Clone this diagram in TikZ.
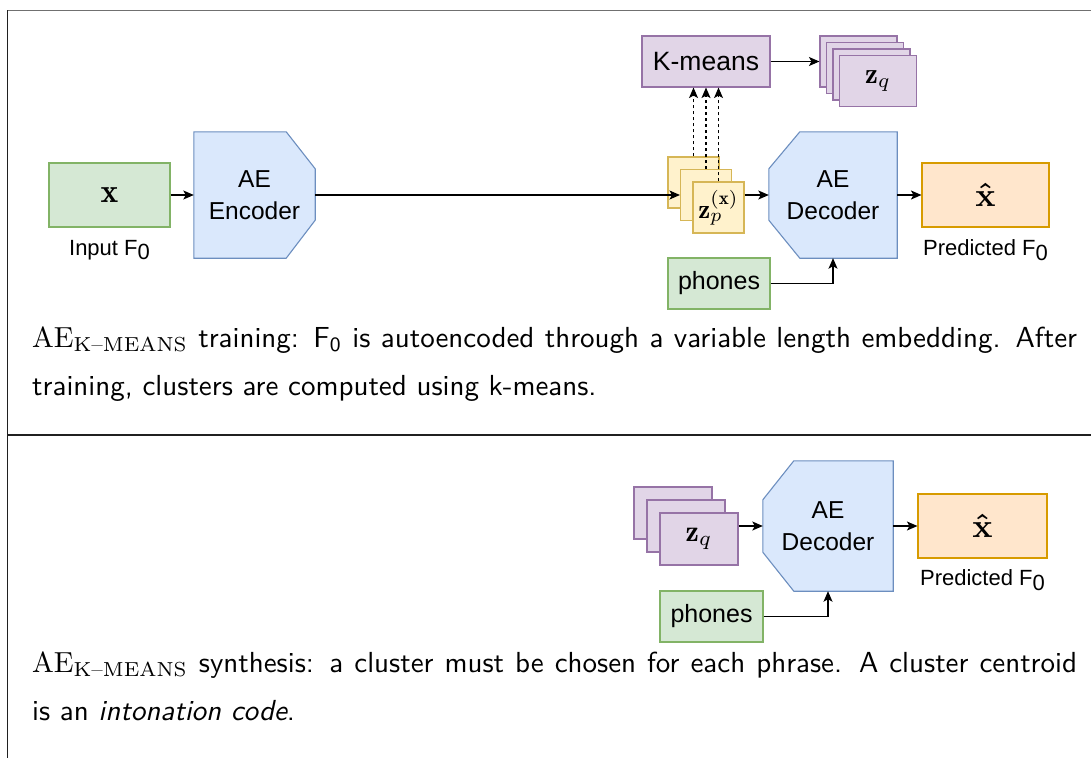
\documentclass[tikz,border=0pt]{standalone}
\usepackage{fontspec}
\usepackage{amsmath}
\usepackage{graphicx}
\usetikzlibrary{arrows.meta}
\newfontfamily\helv{Liberation Sans}
\definecolor{grnF}{HTML}{D5E8D4}\definecolor{grnD}{HTML}{82B366}
\definecolor{bluF}{HTML}{DAE8FC}\definecolor{bluD}{HTML}{6C8EBF}
\definecolor{ylwF}{HTML}{FFF2CC}\definecolor{ylwD}{HTML}{D6B656}
\definecolor{purF}{HTML}{E1D5E7}\definecolor{purD}{HTML}{9673A6}
\definecolor{orgF}{HTML}{FFE6CC}\definecolor{orgD}{HTML}{D79B00}
\definecolor{rulegray}{HTML}{707070}
\definecolor{ruledark}{HTML}{202020}
\pgfdeclarelayer{bg}
\pgfsetlayers{bg,main}
% F with a dropped zero, as in the diagram labels
\newcommand{\Fsub}{F\raisebox{-4.5pt}{0}}
% caption lines are typeset at 10pt and enlarged
\newcommand{\capscale}{2.9}
\newcommand{\AEkm}{\(\mathrm{AE}_{\text{\rmfamily K--MEANS}}\)}
\newcommand{\capline}[1]{\scalebox{\capscale}{\sffamily\fontsize{10}{12}\selectfont #1}}
\newcommand{\capfull}[1]{\scalebox{\capscale}{\sffamily\fontsize{10}{12}\selectfont\makebox[360.3pt][s]{#1}}}
\begin{document}
\begin{tikzpicture}[x=1pt,y=-1pt,
  blk/.style={rectangle, inner sep=0pt, line width=1.1pt},
  wh/.style 2 args={minimum width=#1, minimum height=#2},
  green box/.style={blk, fill=grnF, draw=grnD},
  blue shape/.style={fill=bluF, draw=bluD, line width=1.1pt, line join=miter},
  yellow box/.style={blk, fill=ylwF, draw=ylwD},
  purple box/.style={blk, fill=purF, draw=purD},
  orange box/.style={blk, fill=orgF, draw=orgD},
  boxtxt/.style={font=\helv\fontsize{24.5}{32}\selectfont, align=center},
  lbl/.style={font=\helv\fontsize{22}{26}\selectfont, inner sep=0pt},
  arr/.style={line width=1.1pt, -{Stealth[length=10.5pt,width=9pt,inset=2.5pt]}},
  dsh/.style={arr, dash pattern=on 3pt off 3pt},
  captxt/.style={inner sep=0pt}]
\useasboundingbox (0,0) rectangle (1091,758);

% panel rules
\draw[rulegray, line width=1pt] (7,10) -- (1091,10);
\draw[ruledark, line width=1pt] (7,10) -- (7,758);
\draw[ruledark, line width=1.2pt] (7,435) -- (1091,435);

% ---------- training ----------
\node[green box, wh={121pt}{64pt}] (xin) at (109.5,195) {\scalebox{3.35}{$\mathbf{x}$}};
\node[lbl] (xinl) at (109.5,250) {Input \Fsub};

\node[boxtxt, wh={121pt}{126pt}, inner sep=0pt] (enc) at (254.5,195) {AE\\Encoder};
\begin{pgfonlayer}{bg}
\draw[blue shape] (enc.north west) -- ([xshift=-29pt]enc.north east)
  -- ([yshift=-37pt]enc.north east) -- ([yshift=38pt]enc.south east)
  -- ([xshift=-29pt]enc.south east) -- (enc.south west) -- cycle;
\end{pgfonlayer}

\node[yellow box, wh={51pt}{51pt}] (zp1) at (693.5,182.5) {};
\node[yellow box, wh={51pt}{51pt}] (zp2) at (706,195) {};
\node[yellow box, wh={51pt}{51pt}] (zp3) at (718.5,207.5) {\scalebox{2.7}{$\mathbf{z}_p^{(\mathbf{x})}$}};

\node[purple box, wh={128pt}{51pt}, font=\helv\fontsize{26.5}{30}\selectfont] (km) at (706,61.5) {K-means};

\node[purple box, wh={77pt}{51pt}] (zq1) at (858.5,61.5) {};
\node[purple box, wh={77pt}{51pt}] (zq2) at (865,68) {};
\node[purple box, wh={77pt}{51pt}] (zq3) at (871.5,74.5) {};
\node[purple box, wh={77pt}{51pt}] (zq4) at (878,81) {\scalebox{2.9}{$\mathbf{z}_q$}};

\node[boxtxt, wh={128pt}{126pt}, inner sep=0pt] (dec) at (833,195) {AE\\Decoder};
\begin{pgfonlayer}{bg}
\draw[blue shape] (dec.north east) -- ([xshift=31pt]dec.north west)
  -- ([yshift=-37pt]dec.north west) -- ([yshift=38pt]dec.south west)
  -- ([xshift=31pt]dec.south west) -- (dec.south east) -- cycle;
\end{pgfonlayer}

\node[orange box, wh={127pt}{64pt}] (xh) at (985.5,195) {\scalebox{3.35}{$\boldsymbol{\hat{\mathbf{x}}}$}};
\node[lbl] (xhl) at (985.5,250) {Predicted \Fsub};

\node[green box, wh={102pt}{51pt}, font=\helv\fontsize{25}{30}\selectfont] (ph) at (719,283.5) {phones};

\draw[arr] (xin) -- (enc);
\draw[arr] (enc.east) -- (zp2.west);
\draw[arr] (zp3.east |- dec.west) -- (dec.west);
\draw[arr] (dec.east) -- (xh.west);
\draw[arr] (ph.east) -| (dec.south);
\draw[arr] (km.east) -- (zq1.west);
\draw[dsh] (zp1.north) -- (km.south -| zp1.north);
\draw[dsh] (zp2.north) -- (km.south -| zp2.north);
\draw[dsh] (zp3.north) -- (km.south -| zp3.north);

\node[captxt, anchor=base west] (cap1a) at (32,347) {\capfull{\AEkm{} training: F\(_{\textsf{0}}\) is autoencoded through a variable length embedding. After}};
\node[captxt, anchor=base west] (cap1b) at (32,395) {\capline{training, clusters are computed using k-means.}};

% ---------- synthesis ----------
\node[purple box, wh={78pt}{52pt}] (sq1) at (673,513) {};
\node[purple box, wh={78pt}{52pt}] (sq2) at (686,526) {};
\node[purple box, wh={78pt}{52pt}] (sq3) at (699,539) {\scalebox{3.0}{$\mathbf{z}_q$}};

\node[boxtxt, wh={130pt}{130pt}, inner sep=0pt] (dec2) at (828,526) {AE\\Decoder};
\begin{pgfonlayer}{bg}
\draw[blue shape] (dec2.north east) -- ([xshift=31pt]dec2.north west)
  -- ([yshift=-39pt]dec2.north west) -- ([yshift=39pt]dec2.south west)
  -- ([xshift=31pt]dec2.south west) -- (dec2.south east) -- cycle;
\end{pgfonlayer}

\node[orange box, wh={129pt}{64pt}] (xh2) at (982.5,526) {\scalebox{3.35}{$\boldsymbol{\hat{\mathbf{x}}}$}};
\node[lbl] (xh2l) at (982.5,580) {Predicted \Fsub};

\node[green box, wh={103pt}{51pt}, font=\helv\fontsize{25}{30}\selectfont] (ph2) at (711.5,616.5) {phones};

\draw[arr] (sq3.east |- dec2.west) -- (dec2.west);
\draw[arr] (dec2.east) -- (xh2.west);
\draw[arr] (ph2.east) -| (dec2.south);

\node[captxt, anchor=base west] (cap2a) at (32,672) {\capfull{\AEkm{} synthesis: a cluster must be chosen for each phrase. A cluster centroid}};
\node[captxt, anchor=base west] (cap2b) at (32,720) {\capline{is an \textit{intonation code}.}};
\end{tikzpicture}
\end{document}
